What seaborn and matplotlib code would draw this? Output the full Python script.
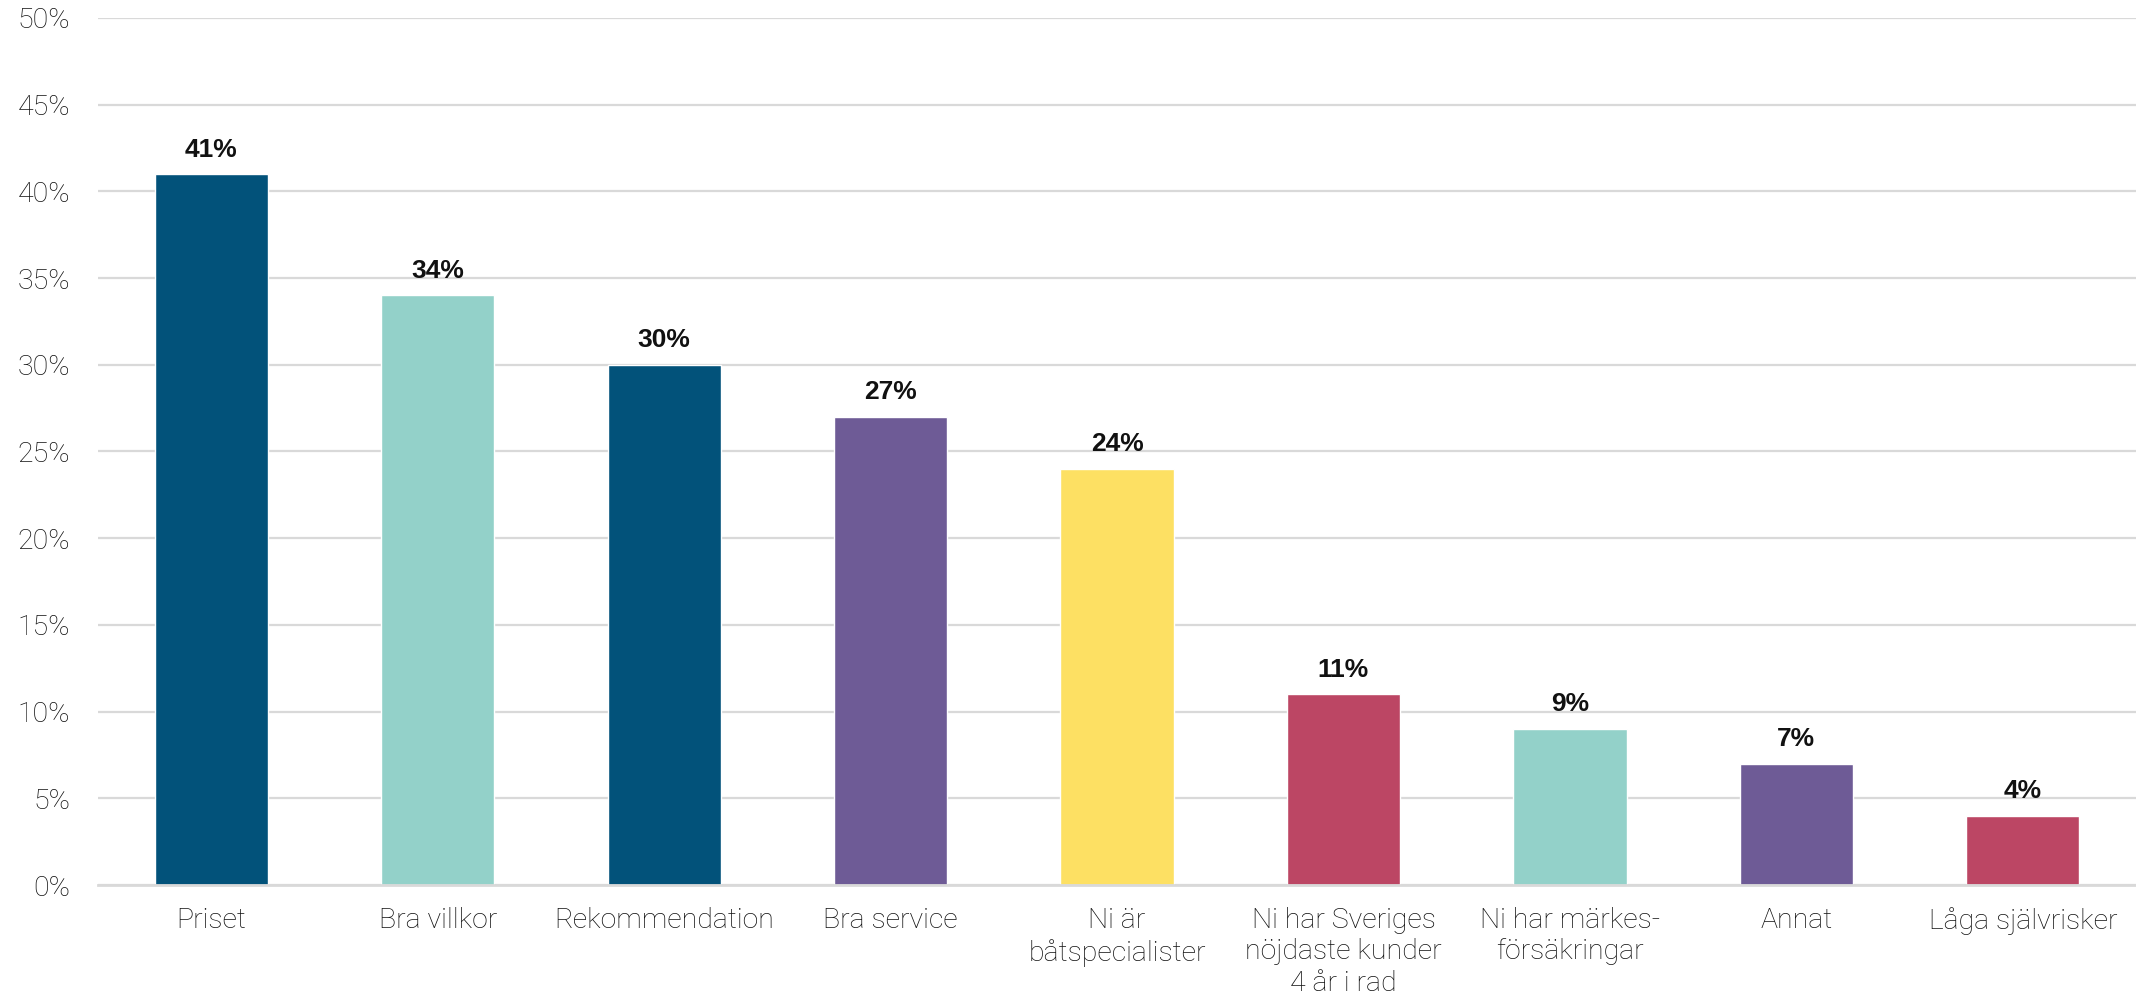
import numpy as np
import pandas as pd
import matplotlib
matplotlib.use("Agg")
import matplotlib.pyplot as plt
import seaborn as sns
from matplotlib.ticker import PercentFormatter

# data
categories = ["Priset", "Bra villkor", "Rekommendation", "Bra service",
              "Ni är\nbåtspecialister", "Ni har Sveriges\nnöjdaste kunder\n4 år i rad",
              "Ni har märkes-\nförsäkringar", "Annat", "Låga självrisker"]
values = [41, 34, 30, 27, 24, 11, 9, 7, 4]
bar_colors = ["#02527A", "#93D1C9", "#02527A", "#6E5B96", "#FDE063",
              "#BC4664", "#93D1C9", "#6E5B96", "#BC4664"]
yticks = [0, 5, 10, 15, 20, 25, 30, 35, 40, 45, 50]

sns.set_theme(style="white")
plt.rcParams["font.family"] = ["Roboto", "Liberation Sans", "DejaVu Sans"]

df = pd.DataFrame({"cat": categories, "val": values})

fig = plt.figure(figsize=(21.36, 9.97), dpi=100)
ax = fig.add_axes([0.0459, 0.1123, 0.9541, 0.8697])

sns.barplot(data=df, x="cat", y="val", hue="cat", palette=bar_colors,
            legend=False, width=0.5, saturation=1, ax=ax, zorder=3)

ax.set_ylim(0, 50)
ax.set_yticks(yticks)
ax.yaxis.set_major_formatter(PercentFormatter(decimals=0))
ax.grid(axis="y", color="#D9D9D9", linewidth=1.6, zorder=0)
ax.set_xlim(-0.5, len(categories) - 0.5)
for s in ["top", "right", "left"]:
    ax.spines[s].set_visible(False)
ax.spines["bottom"].set_color("#D9D9D9")
ax.spines["bottom"].set_linewidth(2)
ax.spines["bottom"].set_zorder(4)

ax.set_xlabel("")
ax.set_ylabel("")
ax.tick_params(axis="y", length=0, pad=20, labelsize=20.5, labelcolor="#111111")
ax.tick_params(axis="x", length=0, pad=16, labelsize=20.5, labelcolor="#111111")
for lbl in ax.get_xticklabels() + ax.get_yticklabels():
    lbl.set_fontweight("light")
for lbl in ax.get_xticklabels():
    lbl.set_linespacing(1.2)

for c in ax.containers:
    ax.bar_label(c, labels=[f"{int(round(v))}%" for v in c.datavalues], padding=9,
                 fontsize=19, fontweight="bold", color="#111111",
                 family=["Liberation Sans", "DejaVu Sans"])

fig.savefig("out.png", dpi=100)
